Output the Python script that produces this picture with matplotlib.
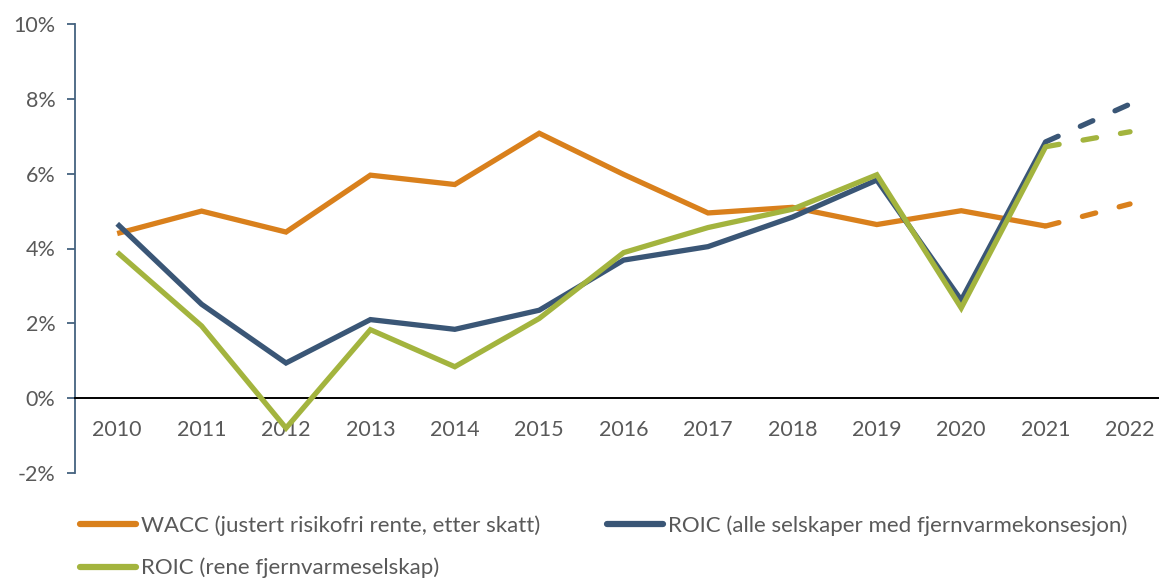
import matplotlib
matplotlib.use("Agg")
import matplotlib.pyplot as plt
from matplotlib.lines import Line2D

years = ["2010", "2011", "2012", "2013", "2014", "2015", "2016",
         "2017", "2018", "2019", "2020", "2021", "2022"]
wacc = [4.40, 5.00, 4.44, 5.96, 5.71, 7.08, 5.98, 4.95, 5.10, 4.64, 5.01, 4.60, 5.19]
roic_alle = [4.66, 2.51, 0.94, 2.10, 1.84, 2.35, 3.69, 4.05, 4.84, 5.83, 2.62, 6.85, 7.86]
roic_rene = [3.90, 1.93, -0.80, 1.83, 0.84, 2.13, 3.89, 4.56, 5.05, 5.97, 2.41, 6.72, 7.12]

labels = ["WACC (justert risikofri rente, etter skatt)",
          "ROIC (alle selskaper med fjernvarmekonsesjon)",
          "ROIC (rene fjernvarmeselskap)"]
colors = ["#D9801C", "#3A5676", "#A3B43E"]

plt.rcParams['font.family'] = ['Lato', 'DejaVu Sans']

fig = plt.figure(figsize=(11.59, 5.81), dpi=100)
ax = fig.add_axes([75 / 1159, 1 - 473 / 581, (1159 - 75) / 1159, (473 - 24) / 581])

x = list(range(len(years)))
n_solid = len(years) - 1  # last point is dashed (projection)
series = [wacc, roic_alle, roic_rene]
for vals, col in zip(series, colors):
    ax.plot(x[:n_solid], vals[:n_solid], color=col, lw=3.8,
            solid_capstyle='butt', solid_joinstyle='miter', zorder=3)
    ax.plot(x[n_solid - 1:], vals[n_solid - 1:], color=col, lw=3.8,
            dashes=(2.6, 4.6), dash_capstyle='round', zorder=3)

ax.set_xlim(-0.5, 12 + (1159 - 1130) / 84.5)
ax.set_ylim(-2, 10)
ax.set_yticks([-2, 0, 2, 4, 6, 8, 10])
ax.set_yticklabels([f"{v}%" for v in [-2, 0, 2, 4, 6, 8, 10]])
ax.set_xticks(x)
ax.set_xticklabels(years)

for s in ['top', 'right']:
    ax.spines[s].set_visible(False)
ax.spines['left'].set_color('#44627F')
ax.spines['left'].set_linewidth(1.3)
ax.spines['bottom'].set_position(('data', 0))
ax.spines['bottom'].set_color('black')
ax.spines['bottom'].set_linewidth(1.4)

ax.tick_params(axis='y', direction='out', length=6, width=1.3, color='#44627F',
               labelsize=15.5, labelcolor='#595959', pad=8)
ax.tick_params(axis='x', length=0, labelsize=15.5, labelcolor='#595959', pad=16)

handles = [Line2D([], [], color=colors[0], lw=4.5, solid_capstyle='round'),
           Line2D([], [], color=colors[2], lw=4.5, solid_capstyle='round'),
           Line2D([], [], color=colors[1], lw=4.5, solid_capstyle='round')]
leg_labels = [labels[0], labels[2], labels[1]]
fig.legend(handles, leg_labels, ncol=2, loc='upper left',
           bbox_to_anchor=(80 / 1159, 1 - 515 / 581), frameon=False,
           fontsize=16, labelcolor='#595959', handlelength=2.5,
           handletextpad=0.25, columnspacing=3.0, labelspacing=1.0,
           borderpad=0, borderaxespad=0)

fig.savefig("out.png", dpi=100)
